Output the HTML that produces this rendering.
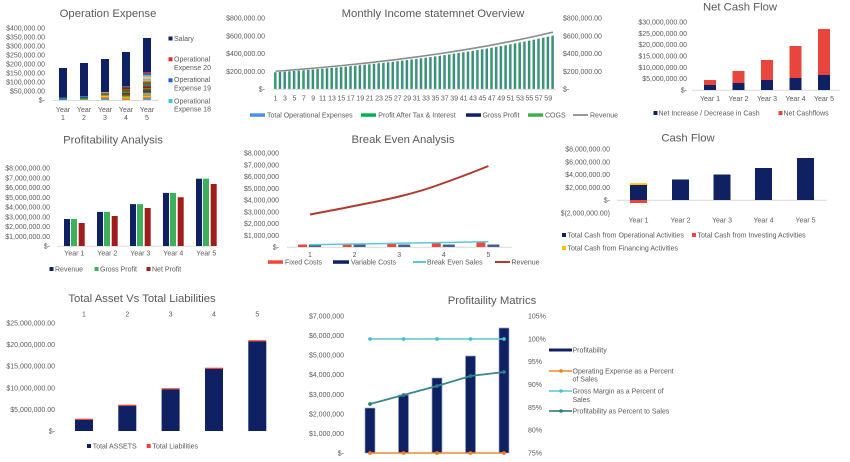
<!DOCTYPE html>
<html><head><meta charset="utf-8"><style>
html,body{margin:0;padding:0;background:#fff;}
svg{display:block;}
text{font-family:"Liberation Sans",Arial,sans-serif;fill:#595959;}
.t{font-size:11.3px;}
.s{font-size:7px;}
</style></head><body>
<svg width="850" height="462" viewBox="0 0 850 462" xmlns="http://www.w3.org/2000/svg">
<defs>
<pattern id="mb" patternUnits="userSpaceOnUse" x="273.25" y="0" width="4.7" height="100">
<rect x="0.8" y="0" width="1.5" height="100" fill="#1E9B57"/>
<rect x="2.4" y="0" width="0.9" height="100" fill="#4F6FA0"/>
</pattern>
</defs>

<!-- Chart 1: Operation Expense -->
<text class="t" x="108" y="17" text-anchor="middle">Operation Expense</text>
<g class="s" text-anchor="end">
<text class="s" x="45" y="30.5">$400,000.00</text>
<text class="s" x="45" y="39.5">$350,000.00</text>
<text class="s" x="45" y="48.5">$300,000.00</text>
<text class="s" x="45" y="57.5">$250,000.00</text>
<text class="s" x="45" y="66.5">$200,000.00</text>
<text class="s" x="45" y="75.5">$150,000.00</text>
<text class="s" x="45" y="84.5">$100,000.00</text>
<text class="s" x="45" y="93.5">$50,000.00</text>
<text class="s" x="45" y="102.5">$-</text>
</g>
<line x1="53" y1="100.5" x2="158" y2="100.5" stroke="#D9D9D9"/>
<g fill="#0F2163">
<rect x="59" y="68" width="8" height="32"/>
<rect x="80" y="63" width="8" height="37"/>
<rect x="101" y="59" width="8" height="41"/>
<rect x="122" y="52" width="8" height="48"/>
<rect x="143" y="38" width="8" height="62"/>
</g>
<rect x="59" y="97.5" width="8" height="2.5" fill="#3A7CA5"/>
<rect x="80" y="96" width="8" height="1.4" fill="#2E75B6"/>
<rect x="80" y="97.3" width="8" height="1.4" fill="#1F5F5F"/>
<rect x="80" y="98.6" width="8" height="1.4" fill="#70AD47"/>
<g>
<rect x="101" y="92" width="8" height="1.4" fill="#A5A5A5"/>
<rect x="101" y="93.3" width="8" height="1.4" fill="#9E480E"/>
<rect x="101" y="94.7" width="8" height="1.4" fill="#70AD47"/>
<rect x="101" y="96" width="8" height="1.4" fill="#FFC000"/>
<rect x="101" y="97.3" width="8" height="1.4" fill="#ED7D31"/>
<rect x="101" y="98.7" width="8" height="1.3" fill="#5B9BD5"/>
</g>
<g>
<rect x="122" y="86" width="8" height="1.5" fill="#2E75B6"/>
<rect x="122" y="87.4" width="8" height="1.5" fill="#C00000"/>
<rect x="122" y="88.8" width="8" height="1.5" fill="#7F6000"/>
<rect x="122" y="90.2" width="8" height="1.5" fill="#43682B"/>
<rect x="122" y="91.6" width="8" height="1.5" fill="#997300"/>
<rect x="122" y="93" width="8" height="1.5" fill="#264478"/>
<rect x="122" y="94.4" width="8" height="1.5" fill="#9E480E"/>
<rect x="122" y="95.8" width="8" height="1.5" fill="#70AD47"/>
<rect x="122" y="97.2" width="8" height="1.5" fill="#FFC000"/>
<rect x="122" y="98.6" width="8" height="1.4" fill="#ED7D31"/>
</g>
<g>
<rect x="143" y="72" width="8" height="1.5" fill="#E32B2B"/>
<rect x="143" y="73.4" width="8" height="1.5" fill="#1F5FE0"/>
<rect x="143" y="74.8" width="8" height="1.5" fill="#3FC8D4"/>
<rect x="143" y="76.2" width="8" height="1.4" fill="#F4B183"/>
<rect x="143" y="77.5" width="8" height="1.4" fill="#FFD966"/>
<rect x="143" y="78.8" width="8" height="1.4" fill="#8FAADC"/>
<rect x="143" y="80.1" width="8" height="1.4" fill="#A9D18E"/>
<rect x="143" y="81.4" width="8" height="1.4" fill="#C55A11"/>
<rect x="143" y="82.7" width="8" height="1.4" fill="#7F6000"/>
<rect x="143" y="84" width="8" height="1.4" fill="#2E75B6"/>
<rect x="143" y="85.3" width="8" height="1.4" fill="#548235"/>
<rect x="143" y="86.6" width="8" height="1.4" fill="#C00000"/>
<rect x="143" y="87.9" width="8" height="1.4" fill="#997300"/>
<rect x="143" y="89.2" width="8" height="1.4" fill="#43682B"/>
<rect x="143" y="90.5" width="8" height="1.4" fill="#264478"/>
<rect x="143" y="91.8" width="8" height="1.4" fill="#9E480E"/>
<rect x="143" y="93.1" width="8" height="1.4" fill="#A5A5A5"/>
<rect x="143" y="94.4" width="8" height="1.4" fill="#70AD47"/>
<rect x="143" y="95.7" width="8" height="1.4" fill="#FFC000"/>
<rect x="143" y="97" width="8" height="1.4" fill="#ED7D31"/>
<rect x="143" y="98.3" width="8" height="1.7" fill="#5B9BD5"/>
</g>
<g text-anchor="middle">
<text class="s" x="63" y="112">Year</text><text class="s" x="63" y="120">1</text>
<text class="s" x="84" y="112">Year</text><text class="s" x="84" y="120">2</text>
<text class="s" x="105" y="112">Year</text><text class="s" x="105" y="120">3</text>
<text class="s" x="126" y="112">Year</text><text class="s" x="126" y="120">4</text>
<text class="s" x="147" y="112">Year</text><text class="s" x="147" y="120">5</text>
</g>
<rect x="168.5" y="36.5" width="4" height="4" fill="#0F2163"/>
<text class="s" x="174" y="40.8">Salary</text>
<rect x="168.5" y="57.3" width="4" height="4" fill="#E32B2B"/>
<text class="s" x="174" y="61.5">Operational</text>
<text class="s" x="174" y="69.8">Expense 20</text>
<rect x="168.5" y="78.3" width="4" height="4" fill="#1F5FE0"/>
<text class="s" x="174" y="82.2">Operational</text>
<text class="s" x="174" y="90.4">Expense 19</text>
<rect x="168.5" y="99" width="4" height="4" fill="#3FC8D4"/>
<text class="s" x="174" y="103.5">Operational</text>
<text class="s" x="174" y="111.7">Expense 18</text>

<!-- Chart 2: Monthly Income -->
<text class="t" x="433" y="17" text-anchor="middle">Monthly Income statemnet Overview</text>
<g text-anchor="end">
<text class="s" x="265" y="20.5">$800,000.00</text>
<text class="s" x="265" y="38.3">$600,000.00</text>
<text class="s" x="265" y="56">$400,000.00</text>
<text class="s" x="265" y="73.8">$200,000.00</text>
<text class="s" x="265" y="91.5">$-</text>
</g>
<text class="s" x="563" y="20.5">$800,000.00</text>
<text class="s" x="563" y="38.3">$600,000.00</text>
<text class="s" x="563" y="56">$400,000.00</text>
<text class="s" x="563" y="73.8">$200,000.00</text>
<text class="s" x="563" y="91.5">$-</text>
<polygon fill="url(#mb)" points="273.25,72.31 275.6,72.31 299.1,70.59 322.6,68.68 346.1,66.57 369.6,64.25 393.1,61.69 416.6,58.86 440.1,55.73 463.6,52.29 487.1,48.5 510.6,44.29 534.1,39.67 552.9,35.61 555.6,35.1 555.6,89 273.25,89"/>
<line x1="273" y1="89.3" x2="556" y2="89.3" stroke="#D9D9D9" stroke-width="0.8"/>
<polyline fill="none" stroke="#8C8C8C" stroke-width="1.6" points="275.6,71.25 299.1,69.41 322.6,67.38 346.1,65.14 369.6,62.67 393.1,59.95 416.6,56.94 440.1,53.61 463.6,49.95 487.1,45.91 510.6,41.44 534.1,36.52 552.9,32.2"/>
<g text-anchor="middle">
<text class="s" x="275.6" y="100.5">1</text><text class="s" x="285" y="100.5">3</text><text class="s" x="294.4" y="100.5">5</text><text class="s" x="303.8" y="100.5">7</text><text class="s" x="313.2" y="100.5">9</text>
<text class="s" x="322.6" y="100.5">11</text><text class="s" x="332" y="100.5">13</text><text class="s" x="341.4" y="100.5">15</text><text class="s" x="350.8" y="100.5">17</text><text class="s" x="360.2" y="100.5">19</text>
<text class="s" x="369.6" y="100.5">21</text><text class="s" x="379" y="100.5">23</text><text class="s" x="388.4" y="100.5">25</text><text class="s" x="397.8" y="100.5">27</text><text class="s" x="407.2" y="100.5">29</text>
<text class="s" x="416.6" y="100.5">31</text><text class="s" x="426" y="100.5">33</text><text class="s" x="435.4" y="100.5">35</text><text class="s" x="444.8" y="100.5">37</text><text class="s" x="454.2" y="100.5">39</text>
<text class="s" x="463.6" y="100.5">41</text><text class="s" x="473" y="100.5">43</text><text class="s" x="482.4" y="100.5">45</text><text class="s" x="491.8" y="100.5">47</text><text class="s" x="501.2" y="100.5">49</text>
<text class="s" x="510.6" y="100.5">51</text><text class="s" x="520" y="100.5">53</text><text class="s" x="529.4" y="100.5">55</text><text class="s" x="538.8" y="100.5">57</text><text class="s" x="548.2" y="100.5">59</text>
</g>
<rect x="250" y="113.3" width="15" height="3.5" fill="#4A8FE8"/>
<text class="s" x="267" y="117.5">Total Operational Expenses</text>
<rect x="361" y="113.3" width="15" height="3.5" fill="#00B050"/>
<text class="s" x="378.3" y="117.5">Profit After Tax &amp; Interest</text>
<rect x="466" y="113.3" width="15" height="3.5" fill="#0F2163"/>
<text class="s" x="482.5" y="117.5">Gross Profit</text>
<rect x="528" y="113.3" width="15" height="3.5" fill="#3FAF4F"/>
<text class="s" x="545" y="117.5">COGS</text>
<line x1="573" y1="115" x2="588" y2="115" stroke="#8C8C8C" stroke-width="1.8"/>
<text class="s" x="590" y="117.5">Revenue</text>

<!-- Chart 3: Net Cash Flow -->
<text class="t" x="740" y="10.5" text-anchor="middle">Net Cash Flow</text>
<g text-anchor="end">
<text class="s" x="687" y="24.5">$30,000,000.00</text>
<text class="s" x="687" y="35.8">$25,000,000.00</text>
<text class="s" x="687" y="47.2">$20,000,000.00</text>
<text class="s" x="687" y="58.5">$15,000,000.00</text>
<text class="s" x="687" y="69.8">$10,000,000.00</text>
<text class="s" x="687" y="81.2">$5,000,000.00</text>
<text class="s" x="687" y="92.5">$-</text>
</g>
<line x1="692" y1="90.3" x2="840" y2="90.3" stroke="#D9D9D9"/>
<g fill="#E8453C">
<rect x="704" y="80" width="12" height="5"/>
<rect x="732.5" y="71" width="12" height="12"/>
<rect x="761" y="60" width="12" height="20"/>
<rect x="789.5" y="46" width="12" height="32"/>
<rect x="818" y="29" width="12" height="46"/>
</g>
<g fill="#0F2163">
<rect x="704" y="85" width="12" height="5"/>
<rect x="732.5" y="83" width="12" height="7"/>
<rect x="761" y="80" width="12" height="10"/>
<rect x="789.5" y="78" width="12" height="12"/>
<rect x="818" y="75" width="12" height="15"/>
</g>
<g text-anchor="middle">
<text class="s" x="710" y="101">Year 1</text>
<text class="s" x="738.5" y="101">Year 2</text>
<text class="s" x="767" y="101">Year 3</text>
<text class="s" x="795.5" y="101">Year 4</text>
<text class="s" x="824" y="101">Year 5</text>
</g>
<rect x="653.5" y="111" width="4" height="4" fill="#0F2163"/>
<text class="s" x="658.5" y="115.5">Net Increase / Decrease in Cash</text>
<rect x="778.5" y="111" width="4" height="4" fill="#E8453C"/>
<text class="s" x="783.5" y="115.5">Net Cashflows</text>

<!-- Chart 4: Profitability Analysis -->
<text class="t" x="113" y="143.5" text-anchor="middle">Profitability Analysis</text>
<g text-anchor="end">
<text class="s" x="50" y="170.5">$8,000,000.00</text>
<text class="s" x="50" y="180.25">$7,000,000.00</text>
<text class="s" x="50" y="190">$6,000,000.00</text>
<text class="s" x="50" y="199.75">$5,000,000.00</text>
<text class="s" x="50" y="209.5">$4,000,000.00</text>
<text class="s" x="50" y="219.25">$3,000,000.00</text>
<text class="s" x="50" y="229">$2,000,000.00</text>
<text class="s" x="50" y="238.75">$1,000,000.00</text>
<text class="s" x="50" y="248.5">$-</text>
</g>
<line x1="57" y1="246.3" x2="215" y2="246.3" stroke="#D9D9D9"/>
<g fill="#0F2163">
<rect x="64" y="219" width="6" height="27"/>
<rect x="97" y="211.9" width="6" height="34.1"/>
<rect x="130" y="204.1" width="6" height="41.9"/>
<rect x="163" y="192.9" width="6" height="53.1"/>
<rect x="196" y="178.7" width="6" height="67.3"/>
</g>
<g fill="#3CB05A">
<rect x="71" y="219" width="6" height="27"/>
<rect x="104" y="211.9" width="6" height="34.1"/>
<rect x="137" y="204.1" width="6" height="41.9"/>
<rect x="170" y="192.9" width="6" height="53.1"/>
<rect x="203" y="178.7" width="6" height="67.3"/>
</g>
<g fill="#A01D1D">
<rect x="78.7" y="223" width="6" height="23"/>
<rect x="111.7" y="216" width="6" height="30"/>
<rect x="144.7" y="208" width="6" height="38"/>
<rect x="177.7" y="197.25" width="6" height="48.75"/>
<rect x="210.7" y="184" width="6" height="62"/>
</g>
<g text-anchor="middle">
<text class="s" x="74.3" y="255.5">Year 1</text>
<text class="s" x="107.3" y="255.5">Year 2</text>
<text class="s" x="140.3" y="255.5">Year 3</text>
<text class="s" x="173.3" y="255.5">Year 4</text>
<text class="s" x="206.3" y="255.5">Year 5</text>
</g>
<rect x="49.5" y="267" width="4" height="4" fill="#0F2163"/>
<text class="s" x="55" y="271.5">Revenue</text>
<rect x="94.5" y="267" width="4" height="4" fill="#3CB05A"/>
<text class="s" x="100" y="271.5">Gross Profit</text>
<rect x="146.5" y="267" width="4" height="4" fill="#A01D1D"/>
<text class="s" x="152" y="271.5">Net Profit</text>

<!-- Chart 5: Break Even Analysis -->
<text class="t" x="403" y="143" text-anchor="middle">Break Even Analysis</text>
<g text-anchor="end">
<text class="s" x="279" y="155.5">$8,000,000</text>
<text class="s" x="279" y="167.25">$7,000,000</text>
<text class="s" x="279" y="179">$6,000,000</text>
<text class="s" x="279" y="190.75">$5,000,000</text>
<text class="s" x="279" y="202.5">$4,000,000</text>
<text class="s" x="279" y="214.25">$3,000,000</text>
<text class="s" x="279" y="226">$2,000,000</text>
<text class="s" x="279" y="237.75">$1,000,000</text>
<text class="s" x="279" y="249.5">$-</text>
</g>
<line x1="287" y1="247.3" x2="512" y2="247.3" stroke="#D9D9D9"/>
<g fill="#EB4A3A">
<rect x="298" y="244.5" width="9" height="2.5"/>
<rect x="342.6" y="244" width="9" height="3"/>
<rect x="387.2" y="243.7" width="9" height="3.3"/>
<rect x="431.8" y="243.2" width="9" height="3.8"/>
<rect x="476.4" y="242.5" width="9" height="4.5"/>
</g>
<g fill="#46618F">
<rect x="309" y="244.5" width="12" height="2.5"/>
<rect x="353.6" y="244.5" width="12" height="2.5"/>
<rect x="398.2" y="244.5" width="12" height="2.5"/>
<rect x="442.8" y="244.5" width="12" height="2.5"/>
<rect x="487.4" y="244.5" width="12" height="2.5"/>
</g>
<polyline fill="none" stroke="#5BC8D8" stroke-width="1.5" points="310,244.7 354.6,244 399.2,243.3 443.8,242.5 488.4,241.7"/>
<path fill="none" stroke="#B03A2E" stroke-width="2" d="M310,214.5 C325,211.6 340,209 354.6,205.9 C370,202.8 385,200 399.2,196.5 C414,193 429,188.5 443.8,183 C459,177.5 474,172 488.4,166"/>
<g text-anchor="middle">
<text class="s" x="310" y="257">1</text>
<text class="s" x="354.6" y="257">2</text>
<text class="s" x="399.2" y="257">3</text>
<text class="s" x="443.8" y="257">4</text>
<text class="s" x="488.4" y="257">5</text>
</g>
<rect x="268" y="260.3" width="15" height="3.5" fill="#EB4A3A"/>
<text class="s" x="285" y="264.5">Fixed Costs</text>
<rect x="333" y="260.3" width="16" height="3.5" fill="#0F2163"/>
<text class="s" x="351" y="264.5">Variable Costs</text>
<line x1="413" y1="262" x2="426" y2="262" stroke="#5BC8D8" stroke-width="2"/>
<text class="s" x="427" y="264.5">Break Even Sales</text>
<line x1="495" y1="262" x2="510" y2="262" stroke="#B03A2E" stroke-width="2"/>
<text class="s" x="511.5" y="264.5">Revenue</text>

<!-- Chart 6: Cash Flow -->
<text class="t" x="688" y="141.5" text-anchor="middle">Cash Flow</text>
<g text-anchor="end">
<text class="s" x="610" y="151.5">$8,000,000.00</text>
<text class="s" x="610" y="164.25">$6,000,000.00</text>
<text class="s" x="610" y="177">$4,000,000.00</text>
<text class="s" x="610" y="189.75">$2,000,000.00</text>
<text class="s" x="610" y="202.5">$-</text>
<text class="s" x="610" y="215.25">$(2,000,000.00)</text>
</g>
<line x1="617" y1="200.3" x2="827" y2="200.3" stroke="#D9D9D9"/>
<g fill="#0F2163">
<rect x="630" y="185" width="17" height="15"/>
<rect x="672" y="179.5" width="17" height="20.5"/>
<rect x="713.5" y="174.5" width="17" height="25.5"/>
<rect x="755" y="168" width="17" height="32"/>
<rect x="797" y="158" width="17" height="42"/>
</g>
<rect x="630" y="183.2" width="17" height="1.8" fill="#FFC000"/>
<rect x="630" y="200" width="17" height="3" fill="#E8453C"/>
<g text-anchor="middle">
<text class="s" x="638.5" y="222.5">Year 1</text>
<text class="s" x="680.5" y="222.5">Year 2</text>
<text class="s" x="722" y="222.5">Year 3</text>
<text class="s" x="763.5" y="222.5">Year 4</text>
<text class="s" x="805.5" y="222.5">Year 5</text>
</g>
<rect x="562" y="233" width="4" height="4" fill="#0F2163"/>
<text class="s" x="567.5" y="237.5">Total Cash from Operational Activities</text>
<rect x="692" y="233" width="4" height="4" fill="#E8453C"/>
<text class="s" x="697.5" y="237.5">Total Cash from Investing Activities</text>
<rect x="562" y="246" width="4" height="4" fill="#FFC000"/>
<text class="s" x="567.5" y="250.5">Total Cash from Financing Activities</text>

<!-- Chart 7: Total Asset Vs Total Liabilities -->
<text class="t" x="142" y="302" text-anchor="middle">Total Asset Vs Total Liabilities</text>
<g text-anchor="middle">
<text class="s" x="84" y="316.5">1</text>
<text class="s" x="127.3" y="316.5">2</text>
<text class="s" x="170.6" y="316.5">3</text>
<text class="s" x="214" y="316.5">4</text>
<text class="s" x="257.3" y="316.5">5</text>
</g>
<g text-anchor="end">
<text class="s" x="55" y="325.5">$25,000,000.00</text>
<text class="s" x="55" y="347.1">$20,000,000.00</text>
<text class="s" x="55" y="368.7">$15,000,000.00</text>
<text class="s" x="55" y="390.3">$10,000,000.00</text>
<text class="s" x="55" y="411.9">$5,000,000.00</text>
<text class="s" x="55" y="433.5">$-</text>
</g>
<g fill="#E8453C">
<rect x="75" y="418.7" width="18" height="1.5"/>
<rect x="118.3" y="404.7" width="18" height="1.5"/>
<rect x="161.6" y="388.2" width="18" height="1.5"/>
<rect x="205" y="367.7" width="18" height="1.5"/>
<rect x="248.3" y="340.2" width="18" height="1.5"/>
</g>
<g fill="#0F2163">
<rect x="75" y="420" width="18" height="11"/>
<rect x="118.3" y="406" width="18" height="25"/>
<rect x="161.6" y="389.5" width="18" height="41.5"/>
<rect x="205" y="369" width="18" height="62"/>
<rect x="248.3" y="341.5" width="18" height="89.5"/>
</g>
<rect x="87" y="444" width="4" height="4" fill="#0F2163"/>
<text class="s" x="92.7" y="448.5">Total ASSETS</text>
<rect x="146.7" y="444" width="4" height="4" fill="#E8453C"/>
<text class="s" x="152.5" y="448.5">Total Liabilities</text>

<!-- Chart 8: Profitaility Matrics -->
<text class="t" x="492" y="304" text-anchor="middle">Profitaility Matrics</text>
<g text-anchor="end">
<text class="s" x="344" y="318.5">$7,000,000</text>
<text class="s" x="344" y="338.1">$6,000,000</text>
<text class="s" x="344" y="357.6">$5,000,000</text>
<text class="s" x="344" y="377.2">$4,000,000</text>
<text class="s" x="344" y="396.8">$3,000,000</text>
<text class="s" x="344" y="416.4">$2,000,000</text>
<text class="s" x="344" y="436">$1,000,000</text>
<text class="s" x="344" y="455.5">$-</text>
</g>
<text class="s" x="528" y="318.5">105%</text>
<text class="s" x="528" y="341.3">100%</text>
<text class="s" x="528" y="364.2">95%</text>
<text class="s" x="528" y="387">90%</text>
<text class="s" x="528" y="409.8">85%</text>
<text class="s" x="528" y="432.7">80%</text>
<text class="s" x="528" y="455.5">75%</text>
<g fill="#0F2163" stroke="#8FA3C8" stroke-width="0.7">
<rect x="365" y="408" width="10" height="45"/>
<rect x="398.5" y="395" width="10" height="58"/>
<rect x="432" y="378" width="10" height="75"/>
<rect x="465.5" y="356" width="10" height="97"/>
<rect x="499" y="328" width="10" height="125"/>
</g>
<line x1="370" y1="339" x2="504" y2="339" stroke="#5CC5D0" stroke-width="1.5"/>
<g fill="#4FC0CC">
<circle cx="370" cy="339" r="1.9"/><circle cx="403.5" cy="339" r="1.9"/><circle cx="437" cy="339" r="1.9"/><circle cx="470.5" cy="339" r="1.9"/><circle cx="504" cy="339" r="1.9"/>
</g>
<line x1="370" y1="453" x2="504" y2="453" stroke="#F28A2E" stroke-width="1.5"/>
<g fill="#F07C1F">
<circle cx="370" cy="453" r="1.9"/><circle cx="403.5" cy="453" r="1.9"/><circle cx="437" cy="453" r="1.9"/><circle cx="470.5" cy="453" r="1.9"/><circle cx="504" cy="453" r="1.9"/>
</g>
<polyline fill="none" stroke="#3B868C" stroke-width="1.8" points="370,404 403.5,395 437,386 470.5,376 504,372"/>
<g fill="#2F7A80">
<circle cx="370" cy="404" r="1.9"/><circle cx="403.5" cy="395" r="1.9"/><circle cx="437" cy="386" r="1.9"/><circle cx="470.5" cy="376" r="1.9"/><circle cx="504" cy="372" r="1.9"/>
</g>
<line x1="549" y1="350" x2="572" y2="350" stroke="#0F2163" stroke-width="3"/>
<text class="s" x="572.5" y="352.5">Profitability</text>
<line x1="549" y1="371" x2="572" y2="371" stroke="#F28A2E" stroke-width="1.5"/>
<circle cx="561" cy="371" r="1.8" fill="#F07C1F"/>
<text class="s" x="572.5" y="373.3">Operating Expense as a Percent</text>
<text class="s" x="572.5" y="381.5">of Sales</text>
<line x1="549" y1="391" x2="572" y2="391" stroke="#5CC5D0" stroke-width="1.5"/>
<circle cx="561" cy="391" r="1.8" fill="#4FC0CC"/>
<text class="s" x="572.5" y="393.5">Gross Margin as a Percent of</text>
<text class="s" x="572.5" y="401.8">Sales</text>
<line x1="549" y1="411" x2="572" y2="411" stroke="#3B868C" stroke-width="1.8"/>
<circle cx="561" cy="411" r="1.8" fill="#2F7A80"/>
<text class="s" x="572.5" y="413.5">Profitability as Percent to Sales</text>
</svg>
</body></html>
